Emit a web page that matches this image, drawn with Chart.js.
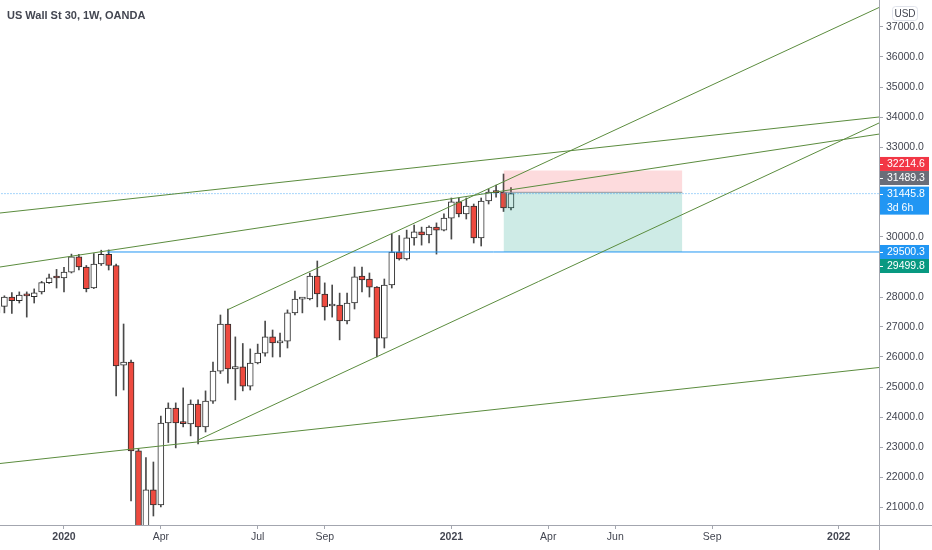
<!DOCTYPE html>
<html><head><meta charset="utf-8">
<script src="https://cdn.jsdelivr.net/npm/chart.js@4.4.1/dist/chart.umd.min.js"></script>
<style>html,body{margin:0;padding:0;background:#fff;}#wrap{width:932px;height:550px;position:relative;}</style>
</head><body><div id="wrap"><canvas id="c" width="932" height="550"></canvas></div>
<script>
// ---- data (weekly US Wall St 30, OANDA) ----
const weekDates = ['2019-11-04','2019-11-11','2019-11-18','2019-11-25','2019-12-02','2019-12-09','2019-12-16','2019-12-23','2019-12-30',
'2020-01-06','2020-01-13','2020-01-20','2020-01-27','2020-02-03','2020-02-10','2020-02-17','2020-02-24','2020-03-02','2020-03-09',
'2020-03-16','2020-03-23','2020-03-30','2020-04-06','2020-04-13','2020-04-20','2020-04-27','2020-05-04','2020-05-11','2020-05-18',
'2020-05-25','2020-06-01','2020-06-08','2020-06-15','2020-06-22','2020-06-29','2020-07-06','2020-07-13','2020-07-20','2020-07-27',
'2020-08-03','2020-08-10','2020-08-17','2020-08-24','2020-08-31','2020-09-07','2020-09-14','2020-09-21','2020-09-28','2020-10-05',
'2020-10-12','2020-10-19','2020-10-26','2020-11-02','2020-11-09','2020-11-16','2020-11-23','2020-11-30','2020-12-07','2020-12-14',
'2020-12-21','2020-12-28','2021-01-04','2021-01-11','2021-01-18','2021-01-25','2021-02-01','2021-02-08','2021-02-15','2021-02-22','2021-03-01'];
const opens = [27480,27690,28000,27880,28090,28010,28170,28480,28650,
28634,28830,29340,29000,28300,29100,29420,29050,25730,25830,
22870,19300,21570,21070,23800,24300,23810,23770,24430,23670,
24530,25530,27100,25600,25670,25030,25800,26130,26670,26470,
26530,27470,27930,27940,28700,28100,27700,27730,27200,27800,
28700,28600,28330,26630,28400,29500,29270,29970,30170,30070,
30330,30230,30630,31170,30770,31030,29970,31200,31500,31500,30970];
const highs = [27720,28040,28150,28170,28170,28270,28520,28760,28920,
28990,29430,29420,29050,29450,29560,29570,29100,27100,25900,
22950,22650,22500,24030,24470,24470,24970,24570,24570,24870,
25830,27400,27600,26670,26450,26270,26430,27200,26900,26800,
27570,28200,27970,28800,29200,28470,28400,28130,28130,29000,
29000,28800,28350,28600,30100,30050,30230,30400,30330,30370,
30470,30770,31300,31300,31300,31100,31300,31600,31730,32100,31650];
const lows = [27320,27470,27450,27800,27330,27800,28100,28450,28300,
28170,28800,28900,28170,28280,29050,28900,24700,24900,21200,
18900,18220,20700,21000,23150,22970,23670,23370,23100,23500,
24450,25450,25130,24570,24870,24900,25770,26030,26000,26000,
26300,27400,27470,27900,27670,27230,27330,26570,27100,27600,
28170,28000,26000,26300,28300,29230,29230,29730,29730,29800,
29430,30200,29930,30670,30600,29800,29700,31100,31330,30850,30900];
const closes = [27680,28000,27880,28060,28040,28140,28480,28640,28634,
28830,29340,29000,28280,29100,29420,29050,25700,25830,22870,
19200,21570,21070,23800,24300,23800,23780,24430,23670,24530,
25530,27100,25600,25680,25030,25800,26130,26670,26470,26520,
27470,27930,27940,28700,28100,27670,27740,27200,27800,28670,
28570,28330,26630,28400,29500,29270,29970,30170,30070,30330,
30230,30630,31170,30770,31030,29970,31200,31500,31480,30970,31445.8];

// x-axis ticks (week index from 2020-01-06) and labels
const xTickWeeks  = [0, 13, 26, 35, 52, 65, 74, 87, 104];
const xTickLabels = ['2020','Apr','Jul','Sep','2021','Apr','Jun','Sep','2022'];
// y-axis tick labels shown
const yTickValues = [21000,22000,23000,24000,25000,26000,27000,28000,30000,33000,34000,35000,36000,37000];

// drawings: [week, price] anchor pairs
const trendUpperChannel = [[22, 27580], [109.4, 37650]];
const trendLowerChannel = [[18, 23233], [109.4, 33800]];
const trendMidLong      = [[-8.6, 29000], [109.4, 33430]];
const trendTopLong      = [[-8.6, 30800], [109.4, 34000]];
const trendBottomLong   = [[-8.6, 22450], [109.4, 25650]];
const hLineLevel   = [[5.8, 29500.3], [115, 29500.3]];
const currentPrice = 31445.8;
const positionWeeks = [59, 83];
const positionStop = 32214.6, positionEntry = 31489.3, positionTarget = 29499.8;
const axisLabelPrices = [32214.6, 31489.3, 31445.8, 29500.3, 29499.8];
const axisLabelTexts  = ['32214.6','31489.3','31445.8','29500.3','29499.8'];
const countdownText = '3d 6h';
const titleText = 'US Wall St 30, 1W, OANDA';

// ---- derived ----
const base = Date.parse('2020-01-06');
const weeks = weekDates.map(d => Math.round((Date.parse(d) - base) / 604800000));

const FONT = "'Liberation Sans', Arial, sans-serif";
const TXT = '#434651';
const GREEN = '#5b8c3e';
const RED = '#ee4a3f';

const wickData = weeks.map((w, i) => ({x: w, y: [lows[i], highs[i]]}));
const bodyData = weeks.map((w, i) => ({x: w, y: [opens[i], closes[i]]}));
const bodyColors = weeks.map((w, i) => closes[i] >= opens[i] ? '#ffffff' : RED);
const pts = a => a.map(p => ({x: p[0], y: p[1]}));
const lineDs = (a, color, extra) => Object.assign({type: 'line', data: pts(a), borderColor: color, borderWidth: 1,
  pointRadius: 0, tension: 0, fill: false, order: 1}, extra || {});

const labelStyles = [
  {bg: '#f23645', shift: -6.6},
  {bg: '#6a6d78', shift: -14.3},
  {bg: '#2196f3', shift: 0, sub: true},
  {bg: '#2196f3', shift: 0},
  {bg: '#089981', shift: 14}
];

const noPad = s => { s.paddingTop = 0; s.paddingBottom = 0; s.paddingLeft = 0; s.paddingRight = 0; };

const overlay = {
  id: 'overlay',
  afterDraw(chart) {
    const {ctx, chartArea, scales} = chart;
    const W = chart.width, H = chart.height;
    ctx.save();
    // axis separators
    ctx.strokeStyle = '#a3a6af'; ctx.lineWidth = 1;
    ctx.beginPath();
    ctx.moveTo(Math.round(chartArea.right) + 0.5, 0); ctx.lineTo(Math.round(chartArea.right) + 0.5, H);
    ctx.moveTo(0, Math.round(chartArea.bottom) + 0.5); ctx.lineTo(W, Math.round(chartArea.bottom) + 0.5);
    ctx.stroke();
    // price labels on axis
    ctx.font = '10.5px ' + FONT; ctx.textBaseline = 'middle'; ctx.textAlign = 'left';
    const x0 = chartArea.right + 1, bw = 49;
    axisLabelPrices.forEach((p, i) => {
      const st = labelStyles[i];
      const cy = scales.y.getPixelForValue(p) + st.shift;
      const h = st.sub ? 28 : 14;
      ctx.fillStyle = st.bg;
      ctx.fillRect(x0, cy - 7, bw, h);
      ctx.fillStyle = '#ffffff';
      ctx.fillRect(x0, Math.round(cy), 3, 1);
      ctx.fillText(axisLabelTexts[i], x0 + 7, cy + 0.5);
      if (st.sub) ctx.fillText(countdownText, x0 + 7, cy + 14);
    });
    // currency box
    ctx.strokeStyle = '#e0e3eb'; ctx.fillStyle = '#fff';
    ctx.beginPath(); ctx.roundRect(892.5, 6.5, 25, 14, 3); ctx.fill(); ctx.stroke();
    ctx.fillStyle = TXT; ctx.textAlign = 'center'; ctx.font = '10px ' + FONT;
    ctx.fillText('USD', 905, 14);
    // title
    ctx.textAlign = 'left'; ctx.textBaseline = 'alphabetic';
    ctx.font = 'bold 11px ' + FONT; ctx.fillStyle = '#434651';
    ctx.fillText(titleText, 7, 19);
    ctx.restore();
  }
};

new Chart(document.getElementById('c'), {
  type: 'bar',
  data: {
    datasets: [
      {type: 'bar', data: wickData, backgroundColor: '#4a4a4a', barThickness: 1, grouped: false, order: 11},
      {type: 'bar', data: bodyData, backgroundColor: bodyColors, borderColor: '#2e2e2e', borderWidth: 1,
        borderSkipped: false, barThickness: 6, minBarLength: 2, grouped: false, order: 10},
      lineDs([[positionWeeks[0], positionStop], [positionWeeks[1], positionStop]], 'rgba(0,0,0,0)',
        {borderWidth: 0, fill: {value: positionEntry}, backgroundColor: 'rgba(242,54,69,0.18)', order: 5}),
      lineDs([[positionWeeks[0], positionTarget], [positionWeeks[1], positionTarget]], 'rgba(0,0,0,0)',
        {borderWidth: 0, fill: {value: positionEntry}, backgroundColor: 'rgba(8,153,129,0.2)', order: 5}),
      lineDs([[positionWeeks[0], positionEntry], [positionWeeks[1], positionEntry]], '#9598a1', {order: 4}),
      lineDs(trendUpperChannel, GREEN),
      lineDs(trendLowerChannel, GREEN),
      lineDs(trendMidLong, GREEN),
      lineDs(trendTopLong, GREEN),
      lineDs(trendBottomLong, GREEN),
      lineDs(hLineLevel, '#2196f3'),
      lineDs([[-10, currentPrice], [115, currentPrice]], 'rgba(33,150,243,0.8)', {borderDash: [1, 2], order: 2})
    ]
  },
  options: {
    responsive: false,
    animation: false,
    layout: {padding: 0},
    plugins: {legend: {display: false}, tooltip: {enabled: false}, title: {display: false}},
    scales: {
      x: {
        type: 'linear', position: 'bottom', offset: false,
        min: -8.59, max: 109.4,
        afterBuildTicks: s => { s.ticks = xTickWeeks.map(v => ({value: v})); },
        afterFit: s => { s.height = 25; noPad(s); },
        ticks: {
          autoSkip: false, maxRotation: 0, padding: 2, color: TXT,
          callback: v => { const i = xTickWeeks.indexOf(v); return i >= 0 ? xTickLabels[i] : ''; },
          font: ctx => ({family: FONT, size: 10.5, weight: (ctx.tick && /^\d{4}$/.test(ctx.tick.label)) ? 'bold' : 'normal'})
        },
        grid: {drawOnChartArea: false, drawTicks: true, tickLength: 4, tickColor: '#a3a6af', offset: false},
        border: {display: false}
      },
      y: {
        type: 'linear', position: 'right',
        min: 20400, max: 37900,
        afterBuildTicks: s => { s.ticks = yTickValues.map(v => ({value: v})); },
        afterFit: s => { s.width = 53; noPad(s); },
        ticks: {padding: 3, color: TXT, font: {family: FONT, size: 10.5}, callback: v => Number(v).toFixed(1)},
        grid: {drawOnChartArea: false, drawTicks: true, tickLength: 4, tickColor: '#a3a6af'},
        border: {display: false}
      }
    }
  },
  plugins: [overlay]
});
</script>
</body></html>
